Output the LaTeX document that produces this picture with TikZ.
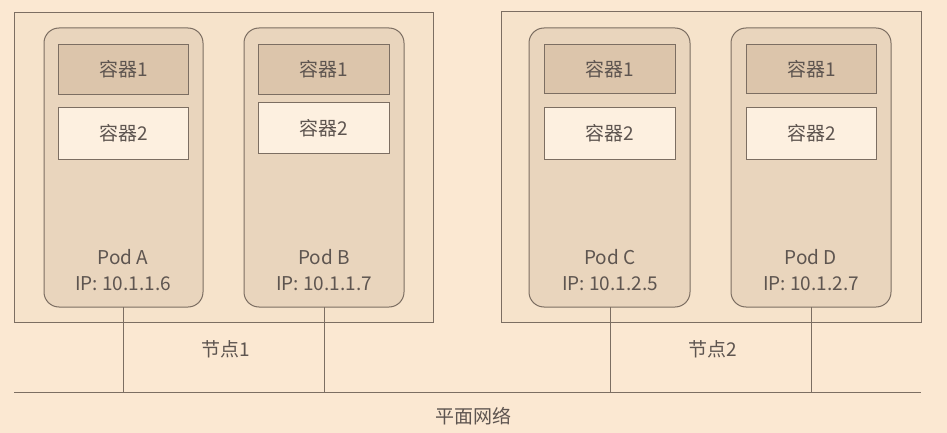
\documentclass[tikz,border=0pt]{standalone}
\usepackage{fontspec}
\setmainfont{Noto Sans CJK SC}
\begin{document}
\definecolor{paper}{HTML}{FBE8D2}
\definecolor{hostfill}{HTML}{F6E3CB}
\definecolor{podfill}{HTML}{E9D5BD}
\definecolor{ctrdark}{HTML}{DCC5AB}
\definecolor{ctrlight}{HTML}{FDF0E0}
\definecolor{ink}{HTML}{7C6E62}
\definecolor{txt}{HTML}{5E5550}
\begin{tikzpicture}[x=1pt,y=-1pt,
  line width=1pt,
  host/.style={draw=ink,fill=hostfill},
  pod/.style={draw=ink,fill=podfill,rounded corners=15pt},
  ctrA/.style={draw=ink,fill=ctrdark},
  ctrB/.style={draw=ink,fill=ctrlight},
  lbl/.style={text=txt,font=\fontsize{19}{22}\selectfont,inner sep=0pt},
  wire/.style={draw=ink,line width=1pt}]
\fill[paper] (0,0) rectangle (947,433);
\useasboundingbox (0,0) rectangle (947,433);

% hosts
\draw[host] (14,13) rectangle (433,322);
\draw[host] (501,12) rectangle (921,322);

% pods
\draw[pod] (44,28) rectangle (203,307);
\draw[pod] (244,28) rectangle (404,307);
\draw[pod] (529,28) rectangle (690,307);
\draw[pod] (731,28) rectangle (891,307);

% containers
\node[ctrA,minimum width=130pt,minimum height=50pt,anchor=north west] (a1) at (58,44) {};
\node[ctrB,minimum width=130pt,minimum height=52pt,anchor=north west] (a2) at (58,107) {};
\node[ctrA,minimum width=131pt,minimum height=50pt,anchor=north west] (b1) at (258,44) {};
\node[ctrB,minimum width=131pt,minimum height=51pt,anchor=north west] (b2) at (258,102) {};
\node[ctrA,minimum width=131pt,minimum height=49pt,anchor=north west] (c1) at (544,44) {};
\node[ctrB,minimum width=131pt,minimum height=52pt,anchor=north west] (c2) at (544,107) {};
\node[ctrA,minimum width=130pt,minimum height=49pt,anchor=north west] (d1) at (746,44) {};
\node[ctrB,minimum width=130pt,minimum height=52pt,anchor=north west] (d2) at (746,107) {};

\foreach \n in {a,b,c,d}{
  \node[lbl] at (\n1) {容器1};
  \node[lbl] at (\n2) {容器2};
}

% pod labels
\node[lbl] (pa) at (123,257) {Pod A};
\node[lbl] at (123,284) {IP: 10.1.1.6};
\node[lbl] (pb) at (324,257) {Pod B};
\node[lbl] at (324,284) {IP: 10.1.1.7};
\node[lbl] (pc) at (610,257) {Pod C};
\node[lbl] at (610,284) {IP: 10.1.2.5};
\node[lbl] (pd) at (811,257) {Pod D};
\node[lbl] at (811,284) {IP: 10.1.2.7};

% network
\coordinate (netL) at (14,392);
\coordinate (netR) at (921,392);
\draw[wire] (netL) -- (netR);
\coordinate (ta) at (123,307); \coordinate (na) at (123,392);
\coordinate (tb) at (324,307); \coordinate (nb) at (324,392);
\coordinate (tc) at (610,307); \coordinate (nc) at (610,392);
\coordinate (td) at (811,307); \coordinate (nd) at (811,392);
\draw[wire] (ta) -- (na);
\draw[wire] (tb) -- (nb);
\draw[wire] (tc) -- (nc);
\draw[wire] (td) -- (nd);

\node[lbl] (h1) at (226,349) {节点1};
\node[lbl] (h2) at (713,349) {节点2};
\node[lbl] (net) at (473,416) {平面网络};
\end{tikzpicture}
\end{document}
